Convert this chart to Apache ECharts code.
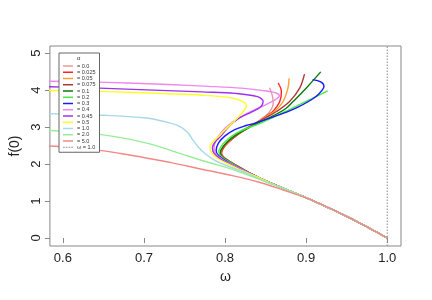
<!DOCTYPE html>
<html><head><meta charset="utf-8">
<script src="https://cdn.jsdelivr.net/npm/echarts@6/dist/echarts.min.js"></script>
<style>html,body{margin:0;padding:0;background:#fff}#c{width:432px;height:300px}</style>
</head><body><div id="c"></div>
<script>
// legend labels
const seriesNames = ['= 0.0','= 0.025','= 0.05','= 0.075','= 0.1','= 0.2','= 0.3','= 0.4','= 0.45','= 0.5','= 1.0','= 2.0','= 5.0'];
const refLineName = 'ω = 1.0';
const xTicks = [0.6,0.7,0.8,0.9,1.0];
const yTicks = [0,1,2,3,4,5];
const refOmega = 1.0;

// [omega, f(0)], starting at omega=1 on the lower branch
const a000 = [[1,0],[0.955,0.53],[0.906,1.03],[0.87,1.36],[0.845,1.60],[0.83,1.76],[0.817,1.92],[0.805,2.08],[0.798,2.20],[0.7958,2.30],[0.798,2.43],[0.805,2.60],[0.816,2.80],[0.83,3.00],[0.843,3.19],[0.852,3.34],[0.857,3.48],[0.8594,3.62],[0.8585,3.83],[0.855,4.06]];
const a025 = [[1,0],[0.955,0.53],[0.906,1.03],[0.87,1.36],[0.845,1.60],[0.83,1.76],[0.817,1.92],[0.805,2.08],[0.798,2.19],[0.7955,2.29],[0.798,2.43],[0.805,2.60],[0.816,2.80],[0.83,3.00],[0.844,3.19],[0.853,3.33],[0.859,3.42],[0.8675,3.69],[0.8695,3.96],[0.8655,4.19]];
const a050 = [[1,0],[0.955,0.53],[0.906,1.03],[0.87,1.36],[0.845,1.60],[0.83,1.76],[0.817,1.92],[0.805,2.08],[0.798,2.19],[0.795,2.30],[0.797,2.43],[0.804,2.60],[0.815,2.80],[0.829,3.00],[0.844,3.19],[0.854,3.33],[0.861,3.42],[0.8716,3.69],[0.8776,4.05],[0.879,4.32]];
const a075 = [[1,0],[0.955,0.53],[0.906,1.03],[0.87,1.36],[0.845,1.60],[0.83,1.76],[0.817,1.92],[0.805,2.08],[0.797,2.20],[0.7945,2.31],[0.797,2.44],[0.803,2.60],[0.814,2.80],[0.829,3.00],[0.845,3.19],[0.8634,3.42],[0.8796,3.69],[0.892,4.05],[0.898,4.43]];
const a100 = [[1,0],[0.955,0.53],[0.906,1.03],[0.87,1.36],[0.845,1.60],[0.83,1.76],[0.816,1.92],[0.804,2.08],[0.796,2.20],[0.794,2.32],[0.797,2.45],[0.804,2.62],[0.815,2.80],[0.829,2.98],[0.845,3.15],[0.8634,3.35],[0.875,3.50],[0.884,3.69],[0.9,4.05],[0.918,4.49]];
const a200 = [[1,0],[0.955,0.53],[0.906,1.03],[0.87,1.36],[0.845,1.60],[0.83,1.76],[0.815,1.93],[0.803,2.09],[0.795,2.21],[0.7923,2.34],[0.795,2.47],[0.802,2.64],[0.813,2.82],[0.826,2.96],[0.841,3.08],[0.86,3.27],[0.88,3.48],[0.9,3.69],[0.9265,3.98]];
const a300 = [[1,0],[0.955,0.53],[0.906,1.03],[0.87,1.36],[0.845,1.60],[0.829,1.77],[0.813,1.94],[0.8,2.10],[0.792,2.23],[0.789,2.36],[0.792,2.57],[0.80,2.76],[0.812,2.93],[0.826,3.04],[0.839,3.12],[0.863,3.30],[0.888,3.52],[0.906,3.73],[0.916,3.90],[0.922,4.10],[0.918,4.22],[0.908,4.28]];
const a400 = [[1,0],[0.955,0.53],[0.906,1.03],[0.87,1.36],[0.845,1.60],[0.827,1.79],[0.81,1.97],[0.797,2.12],[0.789,2.26],[0.7865,2.42],[0.788,2.60],[0.795,2.85],[0.806,3.08],[0.82,3.28],[0.835,3.45],[0.85,3.60],[0.862,3.74],[0.867,3.84],[0.863,3.92],[0.845,3.99],[0.82,4.05],[0.78,4.10],[0.73,4.15],[0.68,4.19],[0.63,4.22],[0.58,4.24]];
const a450 = [[1,0],[0.955,0.53],[0.906,1.03],[0.87,1.36],[0.845,1.60],[0.826,1.79],[0.808,1.97],[0.794,2.14],[0.786,2.30],[0.7845,2.45],[0.788,2.60],[0.796,2.78],[0.8045,3.01],[0.8167,3.23],[0.833,3.41],[0.844,3.55],[0.847,3.69],[0.84,3.82],[0.8126,3.91],[0.772,3.95],[0.72,3.99],[0.67,4.03],[0.62,4.07],[0.58,4.09]];
const a500 = [[1,0],[0.955,0.53],[0.906,1.03],[0.87,1.36],[0.845,1.60],[0.825,1.79],[0.806,1.98],[0.791,2.15],[0.783,2.32],[0.7815,2.47],[0.785,2.60],[0.79,2.70],[0.798,2.88],[0.8085,3.10],[0.8167,3.28],[0.824,3.46],[0.8265,3.59],[0.8187,3.72],[0.8045,3.80],[0.772,3.86],[0.73,3.90],[0.68,3.94],[0.63,3.97],[0.58,3.99]];
const a1000 = [[1,0],[0.955,0.53],[0.906,1.03],[0.87,1.36],[0.855,1.48],[0.83,1.72],[0.804,1.94],[0.788,2.09],[0.776,2.27],[0.767,2.46],[0.76,2.66],[0.754,2.85],[0.744,3.02],[0.725,3.15],[0.70,3.25],[0.65,3.32],[0.60,3.35],[0.58,3.36]];
const a2000 = [[1,0],[0.955,0.53],[0.906,1.03],[0.87,1.36],[0.855,1.48],[0.83,1.69],[0.804,1.89],[0.78,2.04],[0.755,2.21],[0.73,2.39],[0.706,2.55],[0.675,2.70],[0.645,2.80],[0.61,2.87],[0.58,2.91]];
const a5000 = [[1,0],[0.955,0.53],[0.906,1.03],[0.87,1.31],[0.84,1.52],[0.804,1.71],[0.767,1.88],[0.735,2.03],[0.706,2.15],[0.675,2.27],[0.645,2.37],[0.61,2.45],[0.58,2.49]];

const curves = [a000,a025,a050,a075,a100,a200,a300,a400,a450,a500,a1000,a2000,a5000];
const colors = ['#e99a9a','#ff2020','#ffa030','#b03a3a','#0a7a0a','#44ee44','#1a1aff','#ee88ee','#a030f0','#ffff20','#a8d8e8','#98ee98','#f48888'];

const chart = echarts.init(document.getElementById('c'));
const series = curves.map((d,i)=>({
  name: seriesNames[i], type:'line', data:d, symbol:'none', smooth:0.35,
  lineStyle:{color:colors[i], width:1.4}, itemStyle:{color:colors[i]}
}));
series.push({
  name: refLineName, type:'line', symbol:'none',
  data:[[refOmega,-0.216],[refOmega,5.19]],
  lineStyle:{color:'#888', width:1, type:[1.5,1.5]}, itemStyle:{color:'#999'}
});
const font = 'Liberation Sans, Arial, sans-serif';
const legendData = seriesNames.map(n=>({name:n, icon:'rect'}));
legendData.push({name:refLineName, icon:'path://M0,0h2v1h-2z M3,0h2v1h-2z M6,0h2v1h-2z M9,0h2v1h-2z'});
chart.setOption({
  animation:false,
  grid:{left:46, right:31, top:46, bottom:54, show:true, borderColor:'#888', borderWidth:1},
  xAxis:{type:'value', min:0.584, max:1.017, splitLine:{show:false},
    axisLine:{show:false}, axisTick:{show:true, inside:false, length:5, lineStyle:{color:'#888'}, customValues:xTicks},
    axisLabel:{customValues:xTicks, formatter:v=>v.toFixed(1), color:'#222', fontSize:13, fontFamily:font, margin:6},
    name:'ω', nameLocation:'middle', nameGap:24, nameTextStyle:{fontSize:14, color:'#222', fontFamily:font}},
  yAxis:{type:'value', min:-0.216, max:5.19, splitLine:{show:false},
    axisLine:{show:false}, axisTick:{show:true, inside:false, length:5, lineStyle:{color:'#888'}, customValues:yTicks},
    axisLabel:{customValues:yTicks, formatter:v=>String(v), rotate:90, color:'#222', fontSize:13, fontFamily:font, margin:7},
    name:'f(0)', nameLocation:'middle', nameGap:26, nameRotate:90, nameTextStyle:{fontSize:14, color:'#222', fontFamily:font}},
  legend:{orient:'vertical', left:59, top:53, padding:[10,4,2,4], borderColor:'#666', borderWidth:1,
    itemWidth:10, itemHeight:1.5, itemGap:0.25, backgroundColor:'#fff',
    textStyle:{fontSize:5.5, lineHeight:5.5, color:'#333', fontFamily:font, padding:[0,0,0,-1]},
    data: legendData},
  graphic:[{type:'text', left:77, top:55, style:{text:'α', fontSize:6, fill:'#333', fontFamily:font}, z:100}],
  series: series
});
</script></body></html>
